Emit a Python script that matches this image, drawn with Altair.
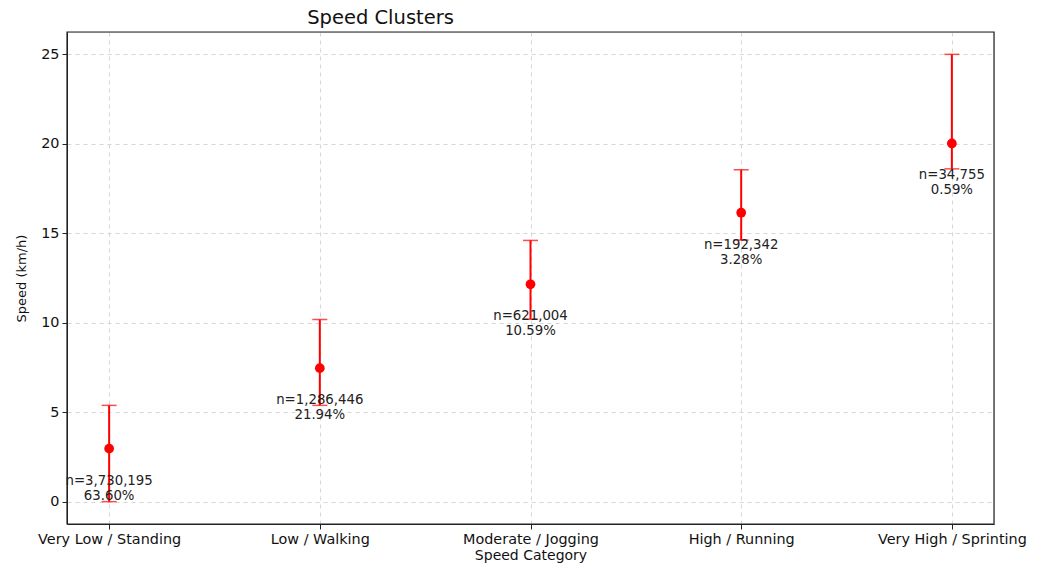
import altair as alt
import pandas as pd

categories = ["Very Low / Standing", "Low / Walking", "Moderate / Jogging",
              "High / Running", "Very High / Sprinting"]
mean_speed = [2.96, 7.46, 12.15, 16.15, 20.02]
lower = [0.0, 5.38, 10.2, 14.62, 18.6]
upper = [5.38, 10.18, 14.6, 18.55, 25.0]
counts = ["n=3,730,195", "n=1,286,446", "n=621,004", "n=192,342", "n=34,755"]
percents = ["63.60%", "21.94%", "10.59%", "3.28%", "0.59%"]

df = pd.DataFrame({
    "cat": categories, "mean": mean_speed, "lo": lower, "hi": upper,
    "count": counts, "pct": percents,
})

FONT = "DejaVu Sans"
RED = "#ff0000"
GRID = dict(grid=True, gridDash=[4, 4], gridColor="#d6d6d6")
AX = dict(domainColor="#222", tickColor="#222", tickSize=5, labelFontSize=14.4,
          labelColor="#111", labelPadding=3, titleFontWeight="normal", titleColor="#111")

xscale = alt.Scale(type="point", padding=0.2)
yscale = alt.Scale(domain=[-1.25, 26.25], nice=False, zero=False)

x = alt.X("cat:N", sort=categories, title="Speed Category", scale=xscale,
          axis=alt.Axis(labelAngle=0, titleFontSize=14, titlePadding=3, **GRID, **AX))

base = alt.Chart(df)

rule = base.mark_rule(color=RED, strokeWidth=2).encode(
    x=x,
    y=alt.Y("lo:Q", scale=yscale, title="Speed (km/h)",
            axis=alt.Axis(values=[0, 5, 10, 15, 20, 25], titleFontSize=13,
                          titlePadding=12, **GRID, **AX)),
    y2="hi:Q",
)
# plot frame
frame = alt.Chart(pd.DataFrame({"f": [0]})).mark_rect(
    fill=None, stroke="#222", strokeWidth=1.2
).encode(x=alt.value(0), x2=alt.value("width"), y=alt.value(0), y2=alt.value("height"))

cap_lo = base.mark_tick(color=RED, size=15, thickness=1.5).encode(
    x=x, y=alt.Y("lo:Q", scale=yscale))
cap_hi = base.mark_tick(color=RED, size=15, thickness=1.5).encode(
    x=x, y=alt.Y("hi:Q", scale=yscale))
pts = base.mark_circle(color=RED, size=95, opacity=1).encode(
    x=x, y=alt.Y("mean:Q", scale=yscale))
t1 = base.mark_text(font=FONT, fontSize=13.3, color="#222", dy=32, baseline="middle").encode(
    x=x, y=alt.Y("mean:Q", scale=yscale), text="count:N")
t2 = base.mark_text(font=FONT, fontSize=13.3, color="#222", dy=47, baseline="middle").encode(
    x=x, y=alt.Y("mean:Q", scale=yscale), text="pct:N")

chart = alt.layer(rule, cap_lo, cap_hi, pts, t1, t2, frame).properties(
    width=927, height=492,
    autosize=alt.AutoSizeParams(type="none"),
    padding={"left": 59, "top": 24, "right": 44, "bottom": 40},
    title=alt.TitleParams("Speed Clusters", fontSize=19.5, font=FONT, fontWeight="normal",
                          color="#111", anchor="middle", dx=-150, offset=3),
).configure_view(stroke=None).configure(font=FONT).configure_axis(
    labelFont=FONT, titleFont=FONT)

chart.save("out.html", embed_options={"renderer": "svg", "actions": False})
